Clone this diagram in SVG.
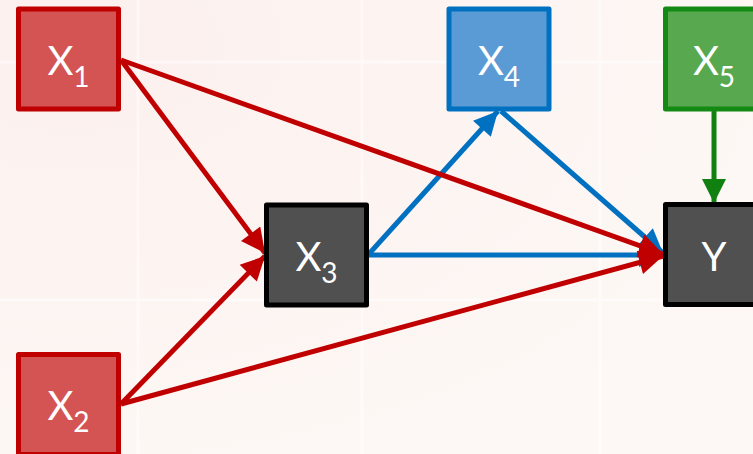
<svg xmlns="http://www.w3.org/2000/svg" width="753" height="454" viewBox="0 0 753 454">
  <style>
    .node rect { stroke-width: 5; stroke-linejoin: round; }
    .red rect { fill: #d45353; stroke: #c00000; }
    .blue rect { fill: #5b9bd5; stroke: #0070c0; }
    .green rect { fill: #58a84f; stroke: #138a13; }
    .dark rect { fill: #505050; stroke: #000000; }
    .node text { fill: #ffffff; font-family: Lato, "Open Sans", sans-serif; font-size: 40px; text-anchor: middle; }
    .node text tspan.sub { font-size: 28px; }
    .edge { fill: none; stroke-width: 5; }
    .e-red { stroke: #c00000; }
    .e-blue { stroke: #0070c0; }
    .e-green { stroke: #108010; }
  </style>
  <defs>
    <marker id="ah-red" viewBox="0 0 10 10" refX="10" refY="5" markerWidth="5.2" markerHeight="4.8" orient="auto">
      <path d="M0,0 L10,5 L0,10 z" fill="#c00000"/>
    </marker>
    <marker id="ah-blue" viewBox="0 0 10 10" refX="10" refY="5" markerWidth="5.2" markerHeight="4.8" orient="auto">
      <path d="M0,0 L10,5 L0,10 z" fill="#0070c0"/>
    </marker>
    <marker id="ah-green" viewBox="0 0 10 10" refX="10" refY="5" markerWidth="5.2" markerHeight="4.8" orient="auto">
      <path d="M0,0 L10,5 L0,10 z" fill="#108010"/>
    </marker>
    <radialGradient id="bg" cx="0.1" cy="0.1" r="1">
      <stop offset="0" stop-color="#fcf0ee"/>
      <stop offset="1" stop-color="#fdf8f5"/>
    </radialGradient>
  </defs>

  <!-- background -->
  <rect x="0" y="0" width="753" height="454" fill="url(#bg)"/>
  <g stroke="#ffffff" stroke-width="3" opacity="0.55">
    <line x1="138" y1="0" x2="138" y2="454"/>
    <line x1="362" y1="0" x2="362" y2="454"/>
    <line x1="600" y1="0" x2="600" y2="454"/>
    <line x1="0" y1="62" x2="753" y2="62"/>
    <line x1="0" y1="300" x2="753" y2="300"/>
  </g>

  <!-- connectors: blue first so the red heads sit on top at Y -->
  <g id="edges">
    <line class="edge e-blue" x1="368" y1="255" x2="498" y2="111" marker-end="url(#ah-blue)"/>
    <line class="edge e-blue" x1="501" y1="111" x2="663" y2="253" marker-end="url(#ah-blue)"/>
    <line class="edge e-blue" x1="368" y1="255" x2="663" y2="255" marker-end="url(#ah-blue)"/>
    <line class="edge e-red" x1="121" y1="60" x2="265" y2="253" marker-end="url(#ah-red)"/>
    <line class="edge e-red" x1="121" y1="60" x2="663" y2="254" marker-end="url(#ah-red)"/>
    <line class="edge e-red" x1="121" y1="404" x2="265" y2="256" marker-end="url(#ah-red)"/>
    <line class="edge e-red" x1="121" y1="404" x2="663" y2="256" marker-end="url(#ah-red)"/>
    <line class="edge e-green" x1="714" y1="111" x2="714" y2="203" marker-end="url(#ah-green)"/>
  </g>

  <!-- nodes -->
  <g id="X1" class="node red">
    <rect x="18.5" y="9" width="100" height="100"/>
    <text x="68.5" y="75">X<tspan class="sub" dy="12">1</tspan></text>
  </g>
  <g id="X2" class="node red">
    <rect x="18.5" y="354.5" width="100" height="100"/>
    <text x="68.5" y="420">X<tspan class="sub" dy="12">2</tspan></text>
  </g>
  <g id="X3" class="node dark">
    <rect x="266.5" y="205" width="100" height="100"/>
    <text x="316.5" y="271">X<tspan class="sub" dy="12">3</tspan></text>
  </g>
  <g id="X4" class="node blue">
    <rect x="449" y="9" width="100" height="100"/>
    <text x="499" y="75">X<tspan class="sub" dy="12">4</tspan></text>
  </g>
  <g id="X5" class="node green">
    <rect x="665.5" y="9" width="98" height="100"/>
    <text x="714" y="75">X<tspan class="sub" dy="12">5</tspan></text>
  </g>
  <g id="Y" class="node dark">
    <rect x="665.5" y="204.5" width="98" height="100"/>
    <text x="714" y="271">Y</text>
  </g>
</svg>
